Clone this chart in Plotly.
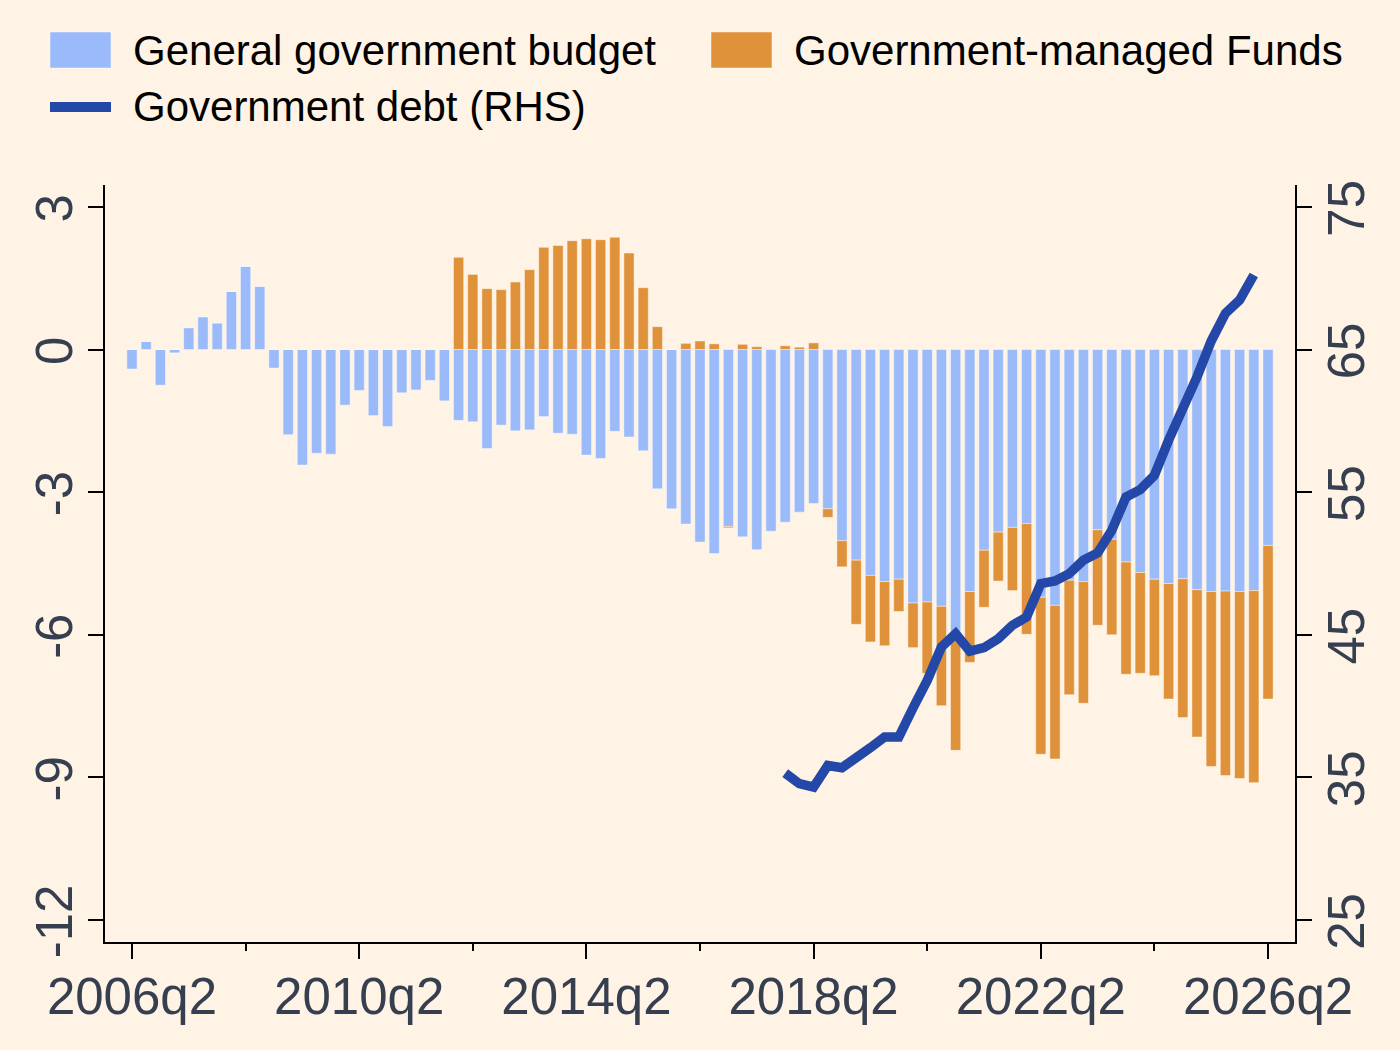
import plotly.graph_objects as go

# ---------------- data ----------------
quarters = [f"{y}q{q}" for y in range(2006, 2027) for q in range(1, 5)][1:82]  # 2006q2 .. 2026q2

general_budget = [
    -0.41, 0.17, -0.75, -0.07, 0.46, 0.69, 0.56, 1.22, 1.75, 1.33,
    -0.39, -1.79, -2.43, -2.18, -2.20, -1.17, -0.86, -1.39, -1.62, -0.91,
    -0.85, -0.65, -1.08, -1.49, -1.52, -2.08, -1.59, -1.71, -1.69, -1.41,
    -1.76, -1.78, -2.22, -2.29, -1.72, -1.84, -2.13, -2.93, -3.35, -3.67,
    -4.05, -4.29, -3.72, -3.94, -4.21, -3.82, -3.63, -3.42, -3.24, -3.35,
    -4.02, -4.43, -4.75, -4.88, -4.83, -5.33, -5.31, -5.40, -6.00, -5.09,
    -4.22, -3.84, -3.74, -3.66, -5.21, -5.38, -4.85, -4.88, -3.79, -3.99,
    -4.47, -4.69, -4.83, -4.92, -4.82, -5.05, -5.09, -5.08, -5.09, -5.07,
    -4.12,
]

managed_funds = [
    0, 0, 0, 0, 0, 0, 0, 0, 0, 0,
    0, 0, 0, 0, 0, 0, 0, 0, 0, 0,
    0, 0, 0, 1.94, 1.58, 1.28, 1.26, 1.42, 1.68, 2.15,
    2.19, 2.29, 2.33, 2.31, 2.36, 2.03, 1.30, 0.48, 0, 0.13,
    0.18, 0.12, -0.03, 0.11, 0.06, 0.01, 0.08, 0.05, 0.14, -0.18,
    -0.55, -1.35, -1.40, -1.35, -0.68, -0.94, -1.50, -2.09, -2.43, -1.49,
    -1.20, -1.03, -1.33, -2.33, -3.30, -3.23, -2.41, -2.56, -2.01, -2.01,
    -2.36, -2.12, -2.03, -2.43, -2.92, -3.10, -3.68, -3.88, -3.93, -4.04,
    -3.23,
]

debt_quarters = quarters[46:80]  # 2017q4 .. 2026q1
government_debt = [
    35.3, 34.56, 34.32, 35.84, 35.68, 36.31, 37.08, 37.83, 37.83, 39.87,
    41.8, 44.14, 45.08, 43.86, 44.1, 44.73, 45.67, 46.25, 48.59, 48.78,
    49.29, 50.23, 50.74, 52.33, 54.67, 55.18, 56.19, 58.65, 60.75, 63.09,
    65.6, 67.54, 68.47, 70.23,
]

x_tick_labels = ["2006q2", "2010q2", "2014q2", "2018q2", "2022q2", "2026q2"]
x_minor_labels = ["2008q2", "2012q2", "2016q2", "2020q2", "2024q2"]
left_ticks = [-12, -9, -6, -3, 0, 3]
right_ticks = [25, 35, 45, 55, 65, 75]

# ---------------- styling ----------------
BG = "#FEF3E5"
BLUE = "#9BBAF9"
ORANGE = "#E0923A"
NAVY = "#2448A8"
TICK_COLOR = "#353F4F"
FONT = "Liberation Sans, Arial, sans-serif"

W, H = 1400, 1050
ML, MR, MT, MB = 105, 105, 185, 108

pos = {q: i for i, q in enumerate(quarters)}
x_all = [pos[q] for q in quarters]
x_debt = [pos[q] for q in debt_quarters]

fig = go.Figure()
fig.add_trace(go.Bar(
    x=x_all, y=general_budget, name="General government budget",
    marker=dict(color=BLUE, line=dict(color="rgba(255,255,255,0.45)", width=1)),
    width=0.72, showlegend=False,
))
fig.add_trace(go.Bar(
    x=x_all, y=managed_funds, name="Government-managed Funds",
    marker=dict(color=ORANGE, line=dict(color="rgba(255,255,255,0.45)", width=1)),
    width=0.72, showlegend=False,
))
fig.add_trace(go.Scatter(
    x=x_debt, y=government_debt, name="Government debt (RHS)", yaxis="y2",
    mode="lines", line=dict(color=NAVY, width=9.5), showlegend=False,
))

tickfont = dict(family=FONT, size=51, color=TICK_COLOR)
axis_common = dict(
    showgrid=False, zeroline=False, showline=True, linewidth=2, linecolor="black",
    ticks="outside", ticklen=15, tickwidth=2, tickcolor="black", tickfont=tickfont,
    automargin=False,
)

fig.update_layout(
    width=W, height=H,
    margin=dict(l=ML, r=MR, t=MT, b=MB, pad=0, autoexpand=False),
    paper_bgcolor=BG, plot_bgcolor=BG,
    barmode="relative", bargap=0.28,
    font=dict(family=FONT),
    xaxis=dict(
        **axis_common,
        range=[-1.9, 81.9],
        tickvals=[pos[t] for t in x_tick_labels], ticktext=x_tick_labels,
        ticklabelstandoff=-6,
        minor=dict(tickvals=[pos[t] for t in x_minor_labels], ticks="outside",
                   ticklen=7, tickwidth=2, tickcolor="black", showgrid=False),
    ),
    yaxis=dict(
        **axis_common,
        range=[-12.46, 3.46],
        tickvals=left_ticks, ticktext=[str(v) for v in left_ticks],
        tickangle=-90, ticklabelstandoff=-4, ticklabelshift=9,
    ),
    yaxis2=dict(
        **axis_common,
        overlaying="y", side="right",
        range=[23.46, 76.54],
        tickvals=right_ticks, ticktext=[str(v) for v in right_ticks],
        tickangle=-90, ticklabelstandoff=-9, ticklabelshift=9,
    ),
)

# ---------------- legend (drawn in paper space) ----------------
pw, ph = W - ML - MR, H - MT - MB
def px_x(px):
    return (px - ML) / pw
def px_y(py):
    return (H - MB - py) / ph

legend_items = [
    ("General government budget", "rect", BLUE, 50, 50),
    ("Government-managed Funds", "rect", ORANGE, 711, 50),
    ("Government debt (RHS)", "line", NAVY, 50, 107),
]
for label, kind, color, lx, cy in legend_items:
    if kind == "rect":
        fig.add_shape(type="rect", xref="paper", yref="paper",
                      x0=px_x(lx), x1=px_x(lx + 61), y0=px_y(cy + 18), y1=px_y(cy - 18),
                      fillcolor=color, line=dict(color="rgba(255,255,255,0.45)", width=1))
    else:
        fig.add_shape(type="rect", xref="paper", yref="paper",
                      x0=px_x(lx), x1=px_x(lx + 61), y0=px_y(cy + 5), y1=px_y(cy - 5),
                      fillcolor=color, line=dict(width=0))
    fig.add_annotation(text=label, xref="paper", yref="paper",
                       x=px_x(lx + 81), y=px_y(cy), xanchor="left", yanchor="middle",
                       showarrow=False, font=dict(family=FONT, size=42, color="black"))

fig.write_html("out.html")
